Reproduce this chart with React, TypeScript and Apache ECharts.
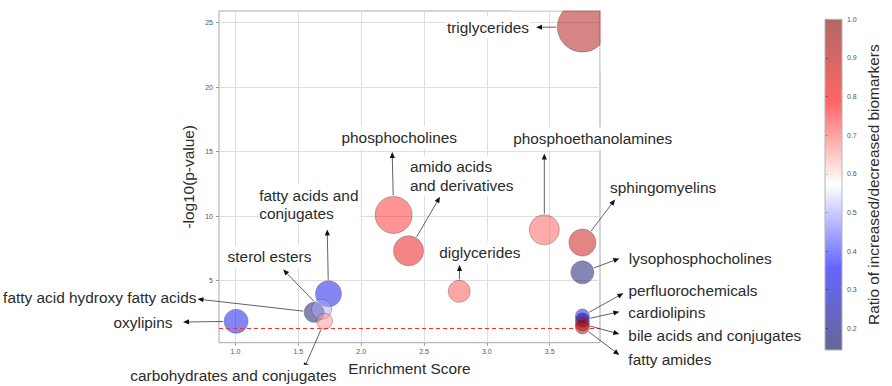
import React, { useEffect, useRef } from "react";
import * as echarts from "echarts";

// ---------------- data ----------------
const categories = [
  "triglycerides",
  "phosphocholines",
  "amido acids and derivatives",
  "diglycerides",
  "phosphoethanolamines",
  "sphingomyelins",
  "lysophosphocholines",
  "perfluorochemicals",
  "cardiolipins",
  "bile acids and conjugates",
  "fatty amides",
  "fatty acids and conjugates",
  "fatty acid hydroxy fatty acids",
  "sterol esters",
  "carbohydrates and conjugates",
  "oxylipins",
];
const enrichmentScore = [3.76, 2.258, 2.377, 2.78, 3.457, 3.76, 3.76, 3.76, 3.76, 3.76, 3.76, 1.74, 1.626, 1.685, 1.709, 1.005];
const negLog10P = [24.66, 10.1, 7.32, 4.18, 8.95, 7.96, 5.65, 2.27, 1.96, 1.65, 1.42, 3.99, 2.55, 2.79, 1.86, 1.86];
const ratio = [0.93, 0.76, 0.82, 0.73, 0.72, 0.88, 0.18, 0.34, 0.22, 0.9, 0.98, 0.33, 0.17, 0.5, 0.67, 0.34];
const bubbleSize = [50, 37, 30, 22, 30, 27, 23, 14, 14, 14, 14, 26, 20, 20, 16, 24];

const xTicks = [1.0, 1.5, 2.0, 2.5, 3.0, 3.5];
const yTicks = [5, 10, 15, 20, 25];
const colorbarTicks = [0.2, 0.3, 0.4, 0.5, 0.6, 0.7, 0.8, 0.9, 1.0];
const P_THRESHOLD = -Math.log10(0.05);

const X_MIN = 0.869;
const X_MAX = 3.9;
const Y_MIN = 0.2;
const Y_MAX = 25.9;
const RATIO_MIN = 0.144;
const RATIO_MAX = 1.0;

// matplotlib "seismic" with alpha 0.6
const seismic = [
  "rgba(0,0,77,0.6)",
  "rgba(0,0,255,0.6)",
  "rgba(255,255,255,0.6)",
  "rgba(255,0,0,0.6)",
  "rgba(128,0,0,0.6)",
];

// annotation layout: arrow tip (data units), text offset from tip (px), alignment
const annotationLayout = [
  { name: "triglycerides", tip: [3.391, 24.64], dx: -6, dy: 0, align: "right" },
  { name: "phosphocholines", tip: [2.247, 14.98], dx: 7, dy: -14.4, align: "center" },
  { name: "amido acids and derivatives", text: "amido acids\nand derivatives", tip: [2.627, 11.5], dx: -31, dy: -20.8, align: "left" },
  { name: "phosphoethanolamines", tip: [3.457, 14.86], dx: 48.4, dy: -15, align: "center" },
  { name: "sphingomyelins", tip: [4.02, 11.3], dx: -6, dy: -11.6, align: "left" },
  { name: "lysophosphocholines", tip: [4.054, 6.73], dx: 8.5, dy: 0, align: "left" },
  { name: "perfluorochemicals", tip: [4.086, 4.03], dx: 4, dy: -2.3, align: "left" },
  { name: "cardiolipins", tip: [4.054, 2.6], dx: 8, dy: 0.6, align: "left" },
  { name: "bile acids and conjugates", tip: [4.054, 0.875], dx: 8, dy: 1.7, align: "left" },
  { name: "fatty amides", tip: [4.054, -0.75], dx: 8, dy: 5, align: "left" },
  { name: "fatty acids and conjugates", text: "fatty acids and\nconjugates", tip: [1.73, 8.98], dx: -69, dy: -24.8, align: "left" },
  { name: "sterol esters", tip: [1.379, 5.88], dx: -13.6, dy: -12.6, align: "center" },
  { name: "fatty acid hydroxy fatty acids", tip: [0.6975, 3.58], dx: 0, dy: -1.7, align: "right" },
  { name: "oxylipins", tip: [0.583, 1.8], dx: -9.5, dy: 0, align: "right" },
  { name: "carbohydrates and conjugates", tip: [1.544, -1.83], dx: -70.5, dy: 7, align: "center" },
  { name: "diglycerides", tip: [2.783, 6.22], dx: 20.3, dy: -12.7, align: "center" },
];

const FONT = '"Liberation Sans", Arial, sans-serif';
const TEXT_COLOR = "#2b2b2b";
const LABEL_SIZE = 15.4;

export default function App() {
  const ref = useRef<HTMLDivElement>(null);

  useEffect(() => {
    if (!ref.current) return;
    const chart = echarts.init(ref.current, undefined, { renderer: "svg" });

    const seriesData = categories.map((name, i) => ({
      name,
      value: [enrichmentScore[i], negLog10P[i], ratio[i], bubbleSize[i]],
    }));

    chart.setOption({
      animation: false,
      backgroundColor: "#ffffff",
      textStyle: { fontFamily: FONT },
      grid: [
        { left: 219, top: 11, width: 381, height: 331.7, show: true, borderColor: "#a8a8a8", borderWidth: 1 },
        { left: 825, top: 19.3, width: 17, height: 330.7, show: false },
      ],
      xAxis: [
        {
          type: "value",
          gridIndex: 0,
          min: X_MIN,
          max: X_MAX,
          name: "Enrichment Score",
          nameLocation: "middle",
          nameGap: 18,
          nameTextStyle: { fontSize: LABEL_SIZE, color: TEXT_COLOR, fontFamily: FONT },
          axisLine: { show: false },
          axisTick: { show: true, length: 3, lineStyle: { color: "#999" }, customValues: xTicks },
          axisLabel: {
            customValues: xTicks,
            fontSize: 7,
            color: "#555",
            margin: 5,
            formatter: (v: number) => v.toFixed(1),
          },
          splitLine: { show: true, lineStyle: { color: "#dedede", width: 1 } },
        },
        { type: "value", gridIndex: 1, min: 0, max: 1, show: false },
      ],
      yAxis: [
        {
          type: "value",
          gridIndex: 0,
          min: Y_MIN,
          max: Y_MAX,
          name: "-log10(p-value)",
          nameLocation: "middle",
          nameGap: 23,
          nameTextStyle: { fontSize: LABEL_SIZE, color: TEXT_COLOR, fontFamily: FONT },
          axisLine: { show: false },
          axisTick: { show: true, length: 3, lineStyle: { color: "#999" }, customValues: yTicks },
          axisLabel: {
            customValues: yTicks,
            fontSize: 7,
            color: "#555",
            margin: 6,
            formatter: (v: number) => String(Math.round(v)),
          },
          splitLine: { show: true, lineStyle: { color: "#dedede", width: 1 } },
        },
        {
          type: "value",
          gridIndex: 1,
          position: "right",
          min: RATIO_MIN,
          max: RATIO_MAX,
          name: "Ratio of increased/decreased biomarkers",
          nameLocation: "middle",
          nameRotate: 90,
          nameGap: 24,
          nameTextStyle: { fontSize: LABEL_SIZE, color: TEXT_COLOR, fontFamily: FONT },
          axisLine: { show: false },
          axisTick: { show: true, length: 3, lineStyle: { color: "#999" }, customValues: colorbarTicks },
          axisLabel: {
            customValues: colorbarTicks,
            fontSize: 7,
            color: "#555",
            margin: 5,
            formatter: (v: number) => v.toFixed(1),
          },
          splitLine: { show: false },
        },
      ],
      visualMap: {
        type: "continuous",
        show: false,
        seriesIndex: 0,
        dimension: 2,
        min: RATIO_MIN,
        max: RATIO_MAX,
        inRange: { color: seismic },
      },
      series: [
        {
          type: "scatter",
          xAxisIndex: 0,
          yAxisIndex: 0,
          data: seriesData,
          symbolSize: (val: number[]) => val[3],
          itemStyle: { borderColor: "rgba(70,70,70,0.45)", borderWidth: 1 },
          z: 3,
          markLine: {
            silent: true,
            symbol: "none",
            label: { show: false },
            lineStyle: { color: "#ff2a2a", type: [4, 3], width: 1.2 },
            data: [{ yAxis: P_THRESHOLD }],
          },
        },
      ],
    });

    // ---- annotations, colorbar and clipping overlays ----
    const toPx = (p: number[]) => chart.convertToPixel({ gridIndex: 0 }, p) as number[];
    const graphics: any[] = [];

    annotationLayout.forEach((a) => {
      const i = categories.indexOf(a.name);
      const c = toPx([enrichmentScore[i], negLog10P[i]]);
      const t = toPx(a.tip);
      const vx = t[0] - c[0];
      const vy = t[1] - c[1];
      const len = Math.hypot(vx, vy) || 1;
      const ux = vx / len;
      const uy = vy / len;
      const r = bubbleSize[i] / 2 + 1;
      const s = [c[0] + ux * r, c[1] + uy * r];
      const L = 6;
      const w = 2.6;
      const base = [t[0] - ux * L, t[1] - uy * L];
      graphics.push({
        type: "line",
        z: 5,
        shape: { x1: s[0], y1: s[1], x2: base[0] + ux * 1, y2: base[1] + uy * 1 },
        style: { stroke: "#3a3a3a", lineWidth: 0.8 },
      });
      graphics.push({
        type: "polygon",
        z: 5,
        shape: {
          points: [
            [t[0], t[1]],
            [base[0] - uy * w, base[1] + ux * w],
            [base[0] + uy * w, base[1] - ux * w],
          ],
        },
        style: { fill: "#111" },
      });
      graphics.push({
        type: "text",
        z: 6,
        x: t[0] + a.dx,
        y: t[1] + a.dy,
        style: {
          text: a.text || a.name,
          fill: TEXT_COLOR,
          fontSize: LABEL_SIZE,
          fontFamily: FONT,
          lineHeight: 18.5,
          align: a.align,
          verticalAlign: "middle",
          backgroundColor: "#ffffff",
          padding: [2, 1],
        },
      });
    });

    // colorbar gradient
    const cbTop = chart.convertToPixel({ yAxisIndex: 1 }, RATIO_MAX) as number;
    const cbBottom = chart.convertToPixel({ yAxisIndex: 1 }, RATIO_MIN) as number;
    const cbLeft = chart.convertToPixel({ xAxisIndex: 1 }, 0) as number;
    const cbRight = chart.convertToPixel({ xAxisIndex: 1 }, 1) as number;
    graphics.push({
      type: "rect",
      z: 1,
      shape: { x: cbLeft, y: cbTop, width: cbRight - cbLeft, height: cbBottom - cbTop },
      style: {
        fill: new echarts.graphic.LinearGradient(
          0,
          1,
          0,
          0,
          seismic.map((color, k) => ({ offset: k / (seismic.length - 1), color }))
        ),
        stroke: "#b5b5b5",
        lineWidth: 1,
      },
    });

    // clip the big bubble to the plot area
    const tl = toPx([X_MIN, Y_MAX]);
    const br = toPx([X_MAX, Y_MIN]);
    graphics.push({
      type: "rect",
      z: 50,
      shape: { x: br[0] - 90, y: 0, width: 130, height: tl[1] - 0.6 },
      style: { fill: "#ffffff" },
    });
    graphics.push({
      type: "rect",
      z: 50,
      shape: { x: br[0] + 0.6, y: 0, width: 40, height: tl[1] + 60 },
      style: { fill: "#ffffff" },
    });

    chart.setOption({ graphic: graphics });

    return () => chart.dispose();
  }, []);

  return (
    <div
      ref={ref}
      style={{ position: "fixed", left: 0, top: 0, width: 892, height: 386 }}
    />
  );
}
